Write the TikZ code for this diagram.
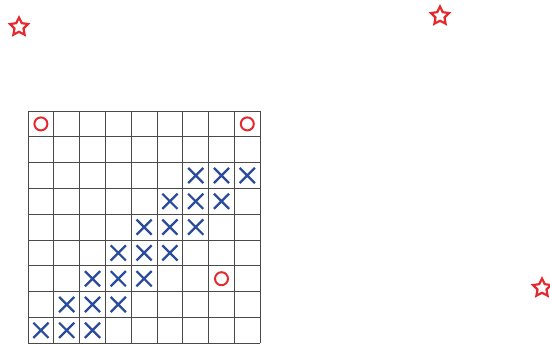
\documentclass[tikz,border=0pt]{standalone}
\usepackage{xcolor}
\usetikzlibrary{shapes.geometric, shapes.misc}

\definecolor{markred}{HTML}{E52A2F}
\definecolor{markblue}{HTML}{2A4A9C}
\definecolor{gridgray}{HTML}{4A4A4A}

\begin{document}
\begin{tikzpicture}[
x=1pt, y=-1pt,
redstar/.style={star, star points=5, star point ratio=2.0, draw=markred, line width=2.2pt, minimum size=19pt, inner sep=0pt},
gridline/.style={draw=gridgray, line width=0.8pt},
xmark/.style={cross out, draw=markblue, line width=2.2pt, minimum size=13pt, inner sep=0pt},
omark/.style={circle, draw=markred, line width=2pt, minimum size=13pt, inner sep=0pt}
]

\useasboundingbox (0,0) rectangle (550,345);

% stars
\node[redstar] (star_a) at (19,27) {};
\node[redstar] (star_b) at (440,16) {};
\node[redstar] (star_c) at (542,288) {};

% board
\begin{scope}[shift={(28,111)}, x=25.8pt, y=-25.8pt]
\foreach \i in {0,...,9} {
  \draw[gridline] (\i,0) -- (\i,9);
  \draw[gridline] (0,\i) -- (9,\i);
}

% crosses along the diagonal band
\foreach \r in {2,...,8} {
  \pgfmathtruncatemacro{\s}{8-\r}
  \foreach \d in {0,1,2} {
    \pgfmathtruncatemacro{\c}{\s+\d}
    \node[xmark] (x_\r_\c) at (\c+0.5,\r+0.5) {};
  }
}

% circles
\node[omark] (o_0_0) at (0.5,0.5) {};
\node[omark] (o_0_8) at (8.5,0.5) {};
\node[omark] (o_6_7) at (7.5,6.5) {};
\end{scope}

\end{tikzpicture}
\end{document}
